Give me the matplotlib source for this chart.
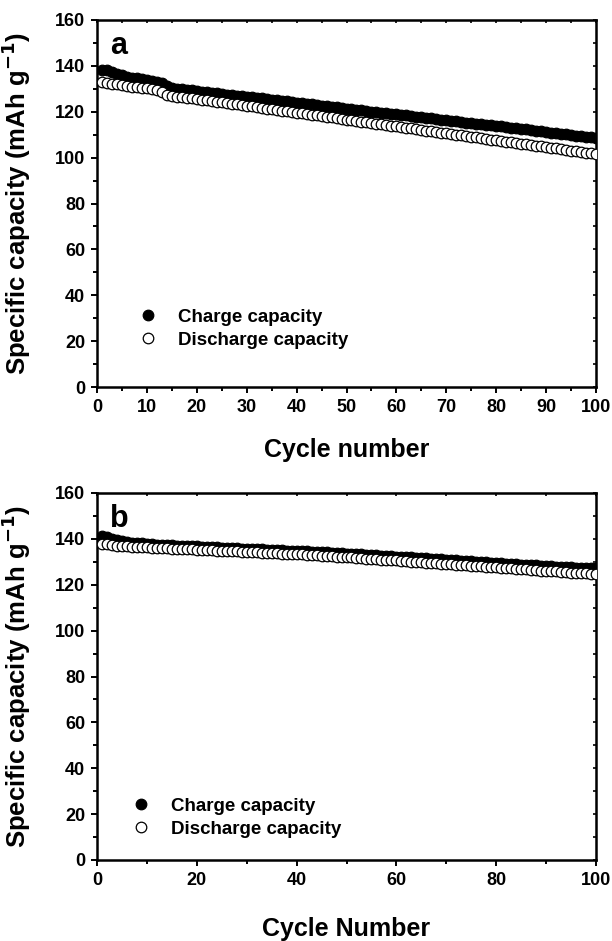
import matplotlib
matplotlib.use("Agg")
import matplotlib.pyplot as plt
from matplotlib.ticker import MultipleLocator

plt.rcParams['font.family'] = ['Liberation Sans', 'DejaVu Sans']
plt.rcParams['font.weight'] = 'bold'

cycles = list(range(1, 101))

charge_a = [
    138.4, 138.0, 137.4, 136.6, 135.9, 135.3, 134.9, 134.5, 134.1, 133.8,
    133.5, 133.1, 132.6, 131.2, 130.3, 130.0, 129.8, 129.6, 129.3, 129.0,
    128.8, 128.5, 128.3, 128.0, 127.8, 127.5, 127.3, 127.0, 126.8, 126.5,
    126.3, 126.0, 125.8, 125.5, 125.3, 125.0, 124.7, 124.5, 124.2, 124.0,
    123.7, 123.5, 123.2, 122.9, 122.7, 122.4, 122.1, 121.9, 121.6, 121.4,
    121.1, 120.9, 120.6, 120.3, 120.1, 119.9, 119.6, 119.4, 119.1, 118.9,
    118.6, 118.4, 118.1, 117.9, 117.6, 117.4, 117.1, 116.8, 116.6, 116.3,
    116.1, 115.8, 115.6, 115.3, 115.1, 114.8, 114.6, 114.3, 114.1, 113.8,
    113.6, 113.3, 113.0, 112.8, 112.5, 112.3, 112.0, 111.7, 111.5, 111.2,
    110.9, 110.7, 110.4, 110.2, 109.9, 109.6, 109.4, 109.1, 108.9, 108.7,
]
discharge_a = [
    132.8, 132.6, 132.3, 131.9, 131.5, 131.2, 130.9, 130.6, 130.4, 130.2,
    129.9, 129.5, 128.6, 127.5, 126.9, 126.6, 126.4, 126.1, 125.9, 125.6,
    125.3, 125.0, 124.7, 124.4, 124.1, 123.8, 123.5, 123.2, 122.9, 122.6,
    122.3, 122.0, 121.7, 121.4, 121.1, 120.8, 120.5, 120.2, 119.9, 119.6,
    119.3, 119.0, 118.7, 118.4, 118.1, 117.8, 117.5, 117.2, 116.9, 116.6,
    116.3, 116.0, 115.7, 115.4, 115.1, 114.8, 114.5, 114.2, 113.9, 113.6,
    113.3, 113.0, 112.7, 112.4, 112.1, 111.8, 111.5, 111.2, 110.9, 110.6,
    110.3, 110.0, 109.7, 109.4, 109.1, 108.8, 108.5, 108.2, 107.9, 107.6,
    107.3, 107.0, 106.7, 106.4, 106.1, 105.8, 105.5, 105.2, 104.9, 104.6,
    104.3, 104.0, 103.7, 103.4, 103.1, 102.8, 102.5, 102.2, 101.9, 101.6,
]
charge_b = [
    141.3, 140.6, 139.9, 139.4, 139.0, 138.7, 138.4, 138.2, 138.0, 137.8,
    137.6, 137.5, 137.4, 137.3, 137.2, 137.1, 137.0, 136.9, 136.8, 136.7,
    136.6, 136.5, 136.4, 136.3, 136.2, 136.1, 136.0, 135.9, 135.8, 135.7,
    135.6, 135.5, 135.4, 135.3, 135.2, 135.1, 135.0, 134.9, 134.8, 134.7,
    134.6, 134.5, 134.4, 134.3, 134.2, 134.1, 134.0, 133.8, 133.7, 133.6,
    133.5, 133.3, 133.2, 133.1, 132.9, 132.8, 132.7, 132.5, 132.4, 132.3,
    132.1, 132.0, 131.9, 131.7, 131.6, 131.5, 131.3, 131.2, 131.1, 130.9,
    130.8, 130.6, 130.5, 130.4, 130.2, 130.1, 129.9, 129.8, 129.7, 129.5,
    129.4, 129.2, 129.1, 129.0, 128.8, 128.7, 128.5, 128.4, 128.3, 128.1,
    128.0, 127.9, 127.8, 127.7, 127.6, 127.5, 127.4, 127.3, 127.3, 127.2,
]
discharge_b = [
    137.9, 137.6, 137.3, 137.0, 136.8, 136.7, 136.6, 136.5, 136.4, 136.3,
    136.2, 136.1, 136.0, 135.9, 135.8, 135.7, 135.6, 135.5, 135.4, 135.3,
    135.2, 135.1, 135.0, 134.9, 134.8, 134.7, 134.6, 134.5, 134.4, 134.3,
    134.2, 134.1, 134.0, 133.9, 133.8, 133.7, 133.6, 133.5, 133.4, 133.3,
    133.2, 133.0, 132.9, 132.8, 132.7, 132.5, 132.4, 132.3, 132.1, 132.0,
    131.9, 131.7, 131.6, 131.4, 131.3, 131.2, 131.0, 130.9, 130.7, 130.6,
    130.4, 130.3, 130.1, 130.0, 129.8, 129.7, 129.5, 129.4, 129.2, 129.1,
    128.9, 128.8, 128.6, 128.5, 128.3, 128.2, 128.0, 127.9, 127.7, 127.6,
    127.4, 127.3, 127.1, 127.0, 126.8, 126.7, 126.5, 126.4, 126.2, 126.1,
    125.9, 125.8, 125.6, 125.5, 125.3, 125.2, 125.1, 125.0, 124.9, 124.9,
]

series_labels = ["Charge capacity", "Discharge capacity"]
panel_letters = ["a", "b"]
xlabels = ["Cycle number", "Cycle Number"]
ylabel = "Specific capacity (mAh g$^{\\mathbf{-1}}$)"

W, H = 612, 941
fig = plt.figure(figsize=(W / 100, H / 100), dpi=100)

def frac_axes(left, top, right, bottom):
    return fig.add_axes([left / W, 1 - bottom / H, (right - left) / W, (bottom - top) / H])

ax_a = frac_axes(97, 20, 596, 387)
ax_b = frac_axes(97, 493, 596, 860)

panels = [
    (ax_a, charge_a, discharge_a, 10, 5, 0.064, 0.083),
    (ax_b, charge_b, discharge_b, 20, 10, 0.050, 0.040),
]

for i, (ax, ch, dis, xmaj, xmin, lx, ly) in enumerate(panels):
    ax.plot(cycles, ch, linestyle='none', marker='o', ms=7.6, mfc='black',
            mec='black', mew=0.9, label=series_labels[0], zorder=3)
    ax.plot(cycles, dis, linestyle='none', marker='o', ms=7.6, mfc='white',
            mec='black', mew=0.9, label=series_labels[1], zorder=4)
    ax.set_xlim(0, 100)
    ax.set_ylim(0, 160)
    ax.xaxis.set_major_locator(MultipleLocator(xmaj))
    ax.xaxis.set_minor_locator(MultipleLocator(xmin))
    ax.yaxis.set_major_locator(MultipleLocator(20))
    ax.yaxis.set_minor_locator(MultipleLocator(10))
    for s in ax.spines.values():
        s.set_linewidth(1.8)
    ax.tick_params(which='both', direction='out', width=1.4, labelsize=13,
                   top=False, right=False)
    ax.tick_params(which='major', length=4.6, pad=4.0)
    ax.tick_params(which='minor', length=2.8)
    for lab in ax.get_xticklabels() + ax.get_yticklabels():
        lab.set_fontweight('bold')
    ax2 = ax.secondary_xaxis('top')
    ax2.xaxis.set_major_locator(MultipleLocator(xmin))
    ax2.tick_params(direction='in', length=2.5, width=1.2, labeltop=False)
    ay2 = ax.secondary_yaxis('right')
    ay2.yaxis.set_major_locator(MultipleLocator(10))
    ay2.tick_params(direction='in', length=2.5, width=1.2, labelright=False)

    ax.set_ylabel(ylabel, fontsize=18.5, fontweight='bold')
    ax.yaxis.set_label_coords(-0.128, 0.5)
    ax.set_xlabel(xlabels[i], fontsize=18, fontweight='bold')
    ax.text(0.026, 0.97, panel_letters[i], transform=ax.transAxes,
            fontsize=22, fontweight='bold', va='top', ha='left')
    ax.legend(loc='lower left', bbox_to_anchor=(lx, ly), frameon=False,
              prop={'size': 13.5, 'weight': 'bold'}, handletextpad=1.0,
              labelspacing=0.32, borderaxespad=0, handlelength=1.2)

ax_a.xaxis.set_label_coords(0.5, -0.14)
ax_b.xaxis.set_label_coords(0.5, -0.155)

fig.savefig("out.png", dpi=100)
